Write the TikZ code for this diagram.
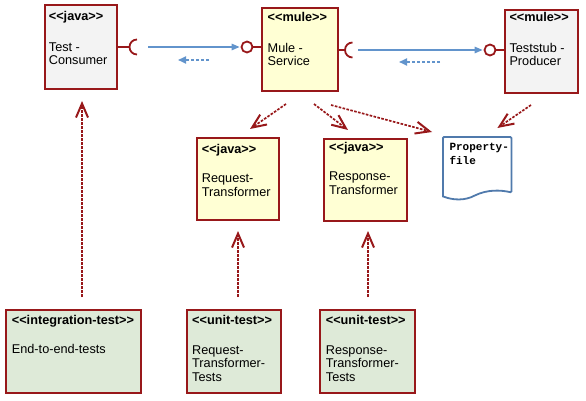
\documentclass[tikz,border=0pt]{standalone}
\usepackage{fontspec}
\setmainfont{Liberation Sans}
\newfontfamily\pfmono{Liberation Mono}
\usetikzlibrary{arrows.meta,calc}
\newcommand\stl{<\kern0pt<}
\newcommand\stg{>\kern0pt>}
\definecolor{bord}{RGB}{152,24,26}
\definecolor{grayfill}{RGB}{243,243,243}
\definecolor{yelfill}{RGB}{255,255,212}
\definecolor{grnfill}{RGB}{222,234,216}
\definecolor{ifblue}{RGB}{98,148,204}
\definecolor{docblue}{RGB}{80,122,172}
\tikzset{
  comp/.style={draw=bord, line width=2pt, rectangle, inner sep=0pt, anchor=north west},
  graybox/.style={comp, fill=grayfill},
  yelbox/.style={comp, fill=yelfill},
  grnbox/.style={comp, fill=grnfill},
  stereo/.style={anchor=base west, inner sep=0pt, font=\bfseries\fontsize{12.7}{14}\selectfont},
  txt/.style={anchor=base west, inner sep=0pt, font=\fontsize{12.7}{14}\selectfont},
  mtxt/.style={anchor=base west, inner sep=0pt, font=\pfmono\bfseries\fontsize{11}{13}\selectfont},
  dep/.style={draw=bord, line width=1.7pt, dash pattern=on 2.6pt off 1.4pt, -{Straight Barb[length=14pt,width=12pt,line width=2pt]}},
  call/.style={draw=ifblue, line width=1.4pt, -{Triangle[length=8pt,width=6.5pt]}},
  ret/.style={draw=ifblue, line width=1.8pt, dash pattern=on 3pt off 2pt, -{Triangle[length=8pt,width=7pt]}},
  lolli/.style={circle, draw=bord, line width=1.8pt, fill=white, minimum size=11pt, inner sep=0pt},
  ifline/.style={draw=bord, line width=1.8pt}
}
\begin{document}
\begin{tikzpicture}[x=1pt,y=-1pt]
\useasboundingbox (0,0) rectangle (586,401);

% components
\node[graybox, minimum width=72pt, minimum height=84pt] (tc) at (44,4) {};
\node[yelbox, minimum width=76pt, minimum height=83pt] (ms) at (261,7) {};
\node[graybox, minimum width=73pt, minimum height=83pt] (tp) at (504,9) {};
\node[yelbox, minimum width=82pt, minimum height=82pt] (rq) at (196,137) {};
\node[yelbox, minimum width=83pt, minimum height=82pt] (rs) at (323,138) {};
\node[grnbox, minimum width=135pt, minimum height=83pt] (et) at (5,309) {};
\node[grnbox, minimum width=94pt, minimum height=83pt] (rqt) at (186,309) {};
\node[grnbox, minimum width=95pt, minimum height=83pt] (rst) at (319,309) {};

% texts
\node[stereo] (tc1) at ($(tc.north west)+(4.7,16.6)$) {\stl java\stg};
\node[txt] (tc2) at ($(tc.north west)+(4.7,47.5)$) {Test -};
\node[txt] (tc3) at ($(tc.north west)+(4.7,61)$) {Consumer};

\node[stereo] (ms1) at ($(ms.north west)+(6.5,14.8)$) {\stl mule\stg};
\node[txt] (ms2) at ($(ms.north west)+(6.5,45.2)$) {Mule -};
\node[txt] (ms3) at ($(ms.north west)+(6.5,58.7)$) {Service};

\node[stereo] (tp1) at ($(tp.north west)+(5.3,13)$) {\stl mule\stg};
\node[txt] (tp2) at ($(tp.north west)+(5.3,43.3)$) {Teststub -};
\node[txt] (tp3) at ($(tp.north west)+(5.3,56.7)$) {Producer};

\node[stereo] (rq1) at ($(rq.north west)+(5.7,16.3)$) {\stl java\stg};
\node[txt] (rq2) at ($(rq.north west)+(5.7,45.5)$) {Request-};
\node[txt] (rq3) at ($(rq.north west)+(5.7,59)$) {Transformer};

\node[stereo] (rs1) at ($(rs.north west)+(6,13)$) {\stl java\stg};
\node[txt] (rs2) at ($(rs.north west)+(6,42.7)$) {Response-};
\node[txt] (rs3) at ($(rs.north west)+(6,56.5)$) {Transformer};

\node[stereo] (et1) at ($(et.north west)+(6.7,15.3)$) {\stl integration-test\stg};
\node[txt] (et2) at ($(et.north west)+(6.7,44.3)$) {End-to-end-tests};

\node[stereo] (rqt1) at ($(rqt.north west)+(6,15.3)$) {\stl unit-test\stg};
\node[txt] (rqt2) at ($(rqt.north west)+(6,45)$) {Request-};
\node[txt] (rqt3) at ($(rqt.north west)+(6,58.7)$) {Transformer-};
\node[txt] (rqt4) at ($(rqt.north west)+(6,72.5)$) {Tests};

\node[stereo] (rst1) at ($(rst.north west)+(6.7,15.3)$) {\stl unit-test\stg};
\node[txt] (rst2) at ($(rst.north west)+(6.7,45)$) {Response-};
\node[txt] (rst3) at ($(rst.north west)+(6.7,58.7)$) {Transformer-};
\node[txt] (rst4) at ($(rst.north west)+(6.7,72.5)$) {Tests};

% property file (document shape)
\node[minimum width=68pt, minimum height=55pt, inner sep=0pt, anchor=north west] (pf) at (443,137) {};
\draw[docblue, line width=1.8pt, fill=white, rounded corners=1pt]
  (pf.south west) -- (pf.north west) -- (pf.north east) -- (pf.south east)
  [sharp corners] .. controls ($(pf.south east)+(-11,-2.5)$) and ($(pf.south east)+(-24,-3)$) .. ($(pf.south west)+(32,3)$)
  .. controls ($(pf.south west)+(22,8.5)$) and ($(pf.south west)+(10,8)$) .. ($(pf.south west)+(0,4)$) -- cycle;
\node[mtxt] (pf1) at ($(pf.north west)+(6.3,13.7)$) {Property-};
\node[mtxt] (pf2) at ($(pf.north west)+(6.3,27.3)$) {file};

% interfaces
\coordinate (tcs) at ($(tc.north east)+(0,43)$);
\draw[ifline] (tcs) -- ++(11.5,0);
\draw[ifline] ($(tcs)+(19,7.5)$) arc[start angle=90, end angle=270, radius=7.5];
\node[lolli] (msl) at ($(ms.north west)+(-14,40)$) {};
\draw[ifline] (msl.east) -- (msl.east -| ms.west);

\coordinate (mss) at ($(ms.north east)+(0,43)$);
\draw[ifline] (mss) -- ++(6,0);
\draw[ifline] ($(mss)+(13.5,7.5)$) arc[start angle=90, end angle=270, radius=7.5];
\node[lolli] (tpl) at ($(tp.north west)+(-14,41)$) {};
\draw[ifline] (tpl.east) -- (tpl.east -| tp.west);

% calls and returns
\draw[call] ($(tcs)+(30,0)$) -- ($(msl.west)+(-1,0)$);
\draw[ret] ($(tcs)+(91,13)$) -- ($(tcs)+(60,13)$);
\draw[call] ($(mss)+(19,0)$) -- ($(tpl.west)+(-1,0)$);
\draw[ret] ($(mss)+(101,12)$) -- ($(mss)+(60,12)$);

% dependencies
\draw[dep] ($(et.north -| tc.south)+(1,-12)$) -- ($(tc.south)+(1,11)$);
\draw[dep] ($(rqt.north -| rq.south)+(0,-12)$) -- ($(rq.south)+(0,10)$);
\draw[dep] ($(rst.north)+(0.5,-12)$) -- ($(rst.north |- rs.south)+(0.5,9)$);
\draw[dep] ($(ms.south)+(-14,12)$) -- ($(rq.north)+(12,-8)$);
\draw[dep] ($(ms.south)+(14,12)$) -- ($(rs.north)+(-17.5,-8)$);
\draw[dep] ($(ms.south)+(31,13)$) -- ($(pf.north west)+(-11,-5)$);
\draw[dep] ($(tp.south)+(-10.5,11)$) -- ($(pf.north east)+(-14,-9)$);
\end{tikzpicture}
\end{document}
